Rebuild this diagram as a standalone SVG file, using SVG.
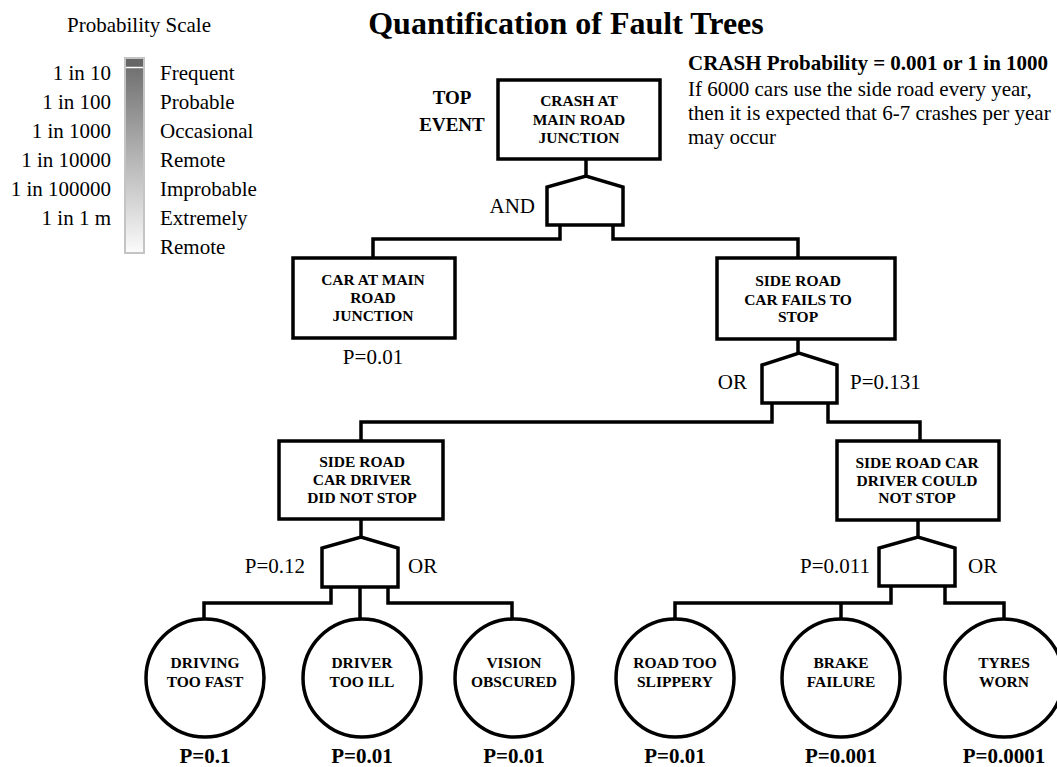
<svg xmlns="http://www.w3.org/2000/svg" width="1057" height="767" viewBox="0 0 1057 767">
<defs>
<linearGradient id="scaleGrad" x1="0" y1="0" x2="0" y2="1">
<stop offset="0" stop-color="#6a6a6a"/>
<stop offset="1" stop-color="#fbfbfb"/>
</linearGradient>
<style>
text{font-family:"Liberation Serif","Times New Roman",serif;fill:#000}
.lg{font-size:21px}
.lbl{font-size:21px}
.b{font-weight:bold}
.box{fill:#fff;stroke:#000;stroke-width:3.5}
.gate{fill:#fff;stroke:#000;stroke-width:3.5;stroke-linejoin:miter}
.ev{fill:#fff;stroke:#000;stroke-width:3.5}
.wire{fill:none;stroke:#000;stroke-width:3.5;stroke-linejoin:miter;stroke-linecap:butt}
.nt{font-size:15.5px;font-weight:bold;text-anchor:middle}
.pb{font-size:21px;font-weight:bold;text-anchor:middle}
</style>
</defs>
<rect width="1057" height="767" fill="#fff"/>

<g id="legend">
<text class="lg" x="139" y="32" text-anchor="middle">Probability Scale</text>
<rect x="125" y="58" width="19" height="195" fill="url(#scaleGrad)" stroke="#c4c4c4" stroke-width="2"/>
<rect x="126" y="59" width="17" height="8" fill="#666"/>
<line x1="126" y1="67.5" x2="143" y2="67.5" stroke="#fff" stroke-width="1.5"/>
<g text-anchor="end" class="lg">
<text x="111" y="80">1 in 10</text>
<text x="111" y="109">1 in 100</text>
<text x="111" y="138">1 in 1000</text>
<text x="111" y="167">1 in 10000</text>
<text x="111" y="196">1 in 100000</text>
<text x="111" y="225">1 in 1 m</text>
</g>
<g class="lg">
<text x="160" y="80">Frequent</text>
<text x="160" y="109">Probable</text>
<text x="160" y="138">Occasional</text>
<text x="160" y="167">Remote</text>
<text x="160" y="196">Improbable</text>
<text x="160" y="225">Extremely</text>
<text x="160" y="254">Remote</text>
</g>
</g>

<g id="title">
<text x="566" y="34" text-anchor="middle" class="b" style="font-size:32px">Quantification of Fault Trees</text>
</g>

<g id="summary">
<text x="688" y="70" class="lbl b">CRASH Probability = 0.001 or 1 in 1000</text>
<text x="688" y="96" class="lbl">If 6000 cars use the side road every year,</text>
<text x="688" y="120" class="lbl">then it is expected that 6-7 crashes per year</text>
<text x="688" y="144" class="lbl">may occur</text>
</g>

<g id="connectors">
<path class="wire" d="M586,159 V177"/>
<path class="wire" d="M560,225 V239 H373 V258"/>
<path class="wire" d="M613,225 V239 H798 V258"/>
<path class="wire" d="M798,339 V354"/>
<path class="wire" d="M772,403 V422 H361 V441"/>
<path class="wire" d="M828,403 V422 H920 V441"/>
<path class="wire" d="M361,519 V538"/>
<path class="wire" d="M331,587 V603 H204 V619"/>
<path class="wire" d="M360,587 V619"/>
<path class="wire" d="M388,587 V603 H512 V619"/>
<path class="wire" d="M918,520 V538"/>
<path class="wire" d="M891,586 V603 H675 V619"/>
<path class="wire" d="M841,603 V619"/>
<path class="wire" d="M945,586 V603 H1004 V619"/>
</g>

<g id="top-event">
<rect class="box" x="498" y="80" width="162" height="79"/>
<text class="nt" x="579" y="106">CRASH AT</text>
<text class="nt" x="579" y="125">MAIN ROAD</text>
<text class="nt" x="579" y="143">JUNCTION</text>
<text class="b" x="452" y="104" text-anchor="middle" style="font-size:19px">TOP</text>
<text class="b" x="452" y="131" text-anchor="middle" style="font-size:19px">EVENT</text>
</g>

<g id="gate-and">
<path class="gate" d="M547,225 V187 L586,176 L623,187 V225 Z"/>
<text class="lbl" x="535" y="213" text-anchor="end">AND</text>
</g>

<g id="car-at-main-road">
<rect class="box" x="293" y="258" width="162" height="80"/>
<text class="nt" x="373" y="285">CAR AT MAIN</text>
<text class="nt" x="373" y="303">ROAD</text>
<text class="nt" x="373" y="321">JUNCTION</text>
<text class="lbl" x="373" y="364" text-anchor="middle">P=0.01</text>
</g>

<g id="side-road-car-fails">
<rect class="box" x="717" y="258" width="178" height="81"/>
<text class="nt" x="798" y="286">SIDE ROAD</text>
<text class="nt" x="798" y="305">CAR FAILS TO</text>
<text class="nt" x="798" y="322">STOP</text>
</g>

<g id="gate-or-1">
<path class="gate" d="M762,403 V365 L799,353 L837,365 V403 Z"/>
<text class="lbl" x="747" y="389" text-anchor="end">OR</text>
<text class="lbl" x="850" y="389">P=0.131</text>
</g>

<g id="driver-did-not-stop">
<rect class="box" x="279" y="441" width="164" height="78"/>
<text class="nt" x="362" y="467">SIDE ROAD</text>
<text class="nt" x="362" y="485">CAR DRIVER</text>
<text class="nt" x="362" y="503">DID NOT STOP</text>
</g>

<g id="gate-or-2">
<path class="gate" d="M322,587 V548 L361,537 L398,548 V587 Z"/>
<text class="lbl" x="305" y="573" text-anchor="end">P=0.12</text>
<text class="lbl" x="408" y="573">OR</text>
</g>

<g id="driver-could-not-stop">
<rect class="box" x="837" y="441" width="162" height="79"/>
<text class="nt" x="917" y="468">SIDE ROAD CAR</text>
<text class="nt" x="917" y="486">DRIVER COULD</text>
<text class="nt" x="917" y="503">NOT STOP</text>
</g>

<g id="gate-or-3">
<path class="gate" d="M879,586 V548 L918,537 L955,548 V586 Z"/>
<text class="lbl" x="870" y="573" text-anchor="end">P=0.011</text>
<text class="lbl" x="968" y="573">OR</text>
</g>

<g id="driving-too-fast">
<circle class="ev" cx="205" cy="678" r="59"/>
<text class="nt" x="205" y="668">DRIVING</text>
<text class="nt" x="205" y="687">TOO FAST</text>
<text class="pb" x="205" y="763">P=0.1</text>
</g>

<g id="driver-too-ill">
<circle class="ev" cx="362" cy="678" r="59"/>
<text class="nt" x="362" y="668">DRIVER</text>
<text class="nt" x="362" y="687">TOO ILL</text>
<text class="pb" x="362" y="763">P=0.01</text>
</g>

<g id="vision-obscured">
<circle class="ev" cx="514" cy="678" r="59"/>
<text class="nt" x="514" y="668">VISION</text>
<text class="nt" x="514" y="687">OBSCURED</text>
<text class="pb" x="514" y="763">P=0.01</text>
</g>

<g id="road-too-slippery">
<circle class="ev" cx="675" cy="678" r="59"/>
<text class="nt" x="675" y="668">ROAD TOO</text>
<text class="nt" x="675" y="687">SLIPPERY</text>
<text class="pb" x="675" y="763">P=0.01</text>
</g>

<g id="brake-failure">
<circle class="ev" cx="841" cy="678" r="59"/>
<text class="nt" x="841" y="668">BRAKE</text>
<text class="nt" x="841" y="687">FAILURE</text>
<text class="pb" x="841" y="763">P=0.001</text>
</g>

<g id="tyres-worn">
<circle class="ev" cx="1004" cy="678" r="59"/>
<text class="nt" x="1004" y="668">TYRES</text>
<text class="nt" x="1004" y="687">WORN</text>
<text class="pb" x="1004" y="763">P=0.0001</text>
</g>
</svg>
